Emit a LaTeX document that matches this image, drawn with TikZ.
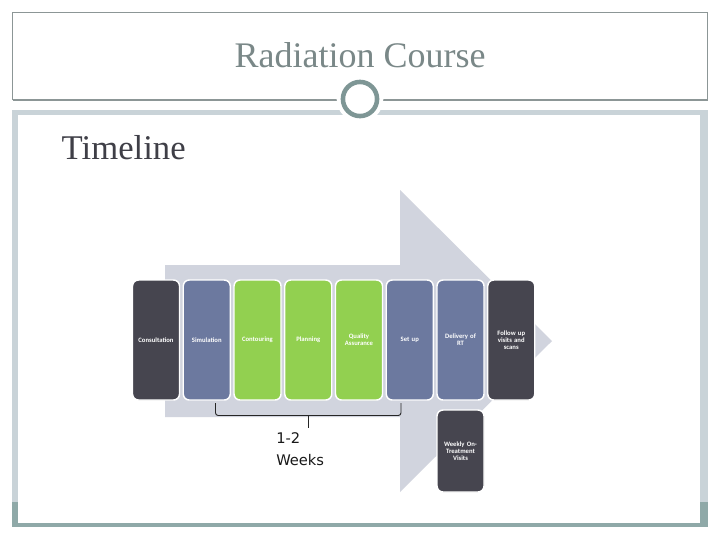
\documentclass[tikz,border=0pt]{standalone}
\usepackage{fontspec}
\setmainfont{Liberation Serif}
\newfontfamily\boxfont{Carlito}
\newfontfamily\weekfont{DejaVu Sans}
\definecolor{framegray}{HTML}{8C9696}
\definecolor{bandlight}{HTML}{C9D3D8}
\definecolor{bandteal}{HTML}{8FA9A8}
\definecolor{ringcol}{HTML}{7E9695}
\definecolor{titlegray}{HTML}{7A8888}
\definecolor{timelinecol}{HTML}{3F3F47}
\definecolor{arrowgray}{HTML}{D1D4DE}
\definecolor{darkbox}{HTML}{46454F}
\definecolor{slatebox}{HTML}{6C799F}
\definecolor{greenbox}{HTML}{92D050}
\begin{document}
\begin{tikzpicture}[x=0.75pt,y=-0.75pt,
  stage/.style={rounded corners=4.5pt, draw=white, line width=1.1pt,
    minimum width=35.25pt, minimum height=90pt, inner sep=0pt,
    text=white, align=center, text width=33pt,
    font=\boxfont\bfseries\fontsize{5}{5.4}\selectfont},
  darkstage/.style={stage, fill=darkbox},
  slatestage/.style={stage, fill=slatebox},
  greenstage/.style={stage, fill=greenbox},
  thinline/.style={draw=framegray, line width=0.8pt}]
\useasboundingbox (0,0) rectangle (720,540);
\fill[white] (0,0) rectangle (720,540);
% outer frame and header
\draw[thinline] (12.5,100) -- (12.5,12.5) -- (707.5,12.5) -- (707.5,100);
\draw[thinline] (12.5,100) -- (707.5,100);
% content band
\fill[bandlight] (12,110) rectangle (708,527);
\fill[bandteal] (12,502) rectangle (708,527);
\fill[white] (17.5,115) rectangle (699.5,522.5);
% ring
\fill[white] (360,99) circle[radius=17.5pt];
\draw[ringcol, line width=3.4pt] (360,99) circle[radius=12.8pt];
% title
\node[anchor=base, text=titlegray, font=\fontsize{27}{30}\selectfont] (title) at (360,67) {Radiation Course};
\node[anchor=base west, text=timelinecol, font=\fontsize{26}{30}\selectfont] (timeline) at (57,159) {Timeline};
% big arrow
\fill[arrowgray] (165,265) -- (400,265) -- (400,190) -- (552,341) -- (400,492) -- (400,417) -- (165,417) -- cycle;
% stages
\node[darkstage]  (consult)  at (156,340)    {Consultation};
\node[slatestage] (sim)      at (206.75,340) {Simulation};
\node[greenstage] (contour)  at (257.5,340)  {Contouring};
\node[greenstage] (plan)     at (308.25,340) {Planning};
\node[greenstage] (qa)       at (359,340)    {Quality\\Assurance};
\node[slatestage] (setup)    at (409.75,340) {Set up};
\node[slatestage] (delivery) at (460.5,340)  {Delivery of\\RT};
\node[darkstage]  (follow)   at (511.25,340) {Follow up\\visits and\\scans};
\node[darkstage, minimum height=61.5pt] (weekly) at (460.5,451) {Weekly On-\\Treatment\\Visits};
% bracket
\coordinate (bl) at (215.5,403);
\coordinate (br) at (401,403);
\coordinate (bm) at (308,415.5);
\coordinate (bt) at (308,428);
\draw[black!85, line width=0.7pt, rounded corners=2pt] (bl) |- (bm) -| (br);
\draw[black!85, line width=0.7pt] (bm) -- (bt);
\node[anchor=base west, align=left, inner sep=0pt, text=black!90,
  font=\weekfont\fontsize{11}{16.5}\selectfont] (weeks) at (276,465) {1-2\\Weeks};
\end{tikzpicture}
\end{document}
